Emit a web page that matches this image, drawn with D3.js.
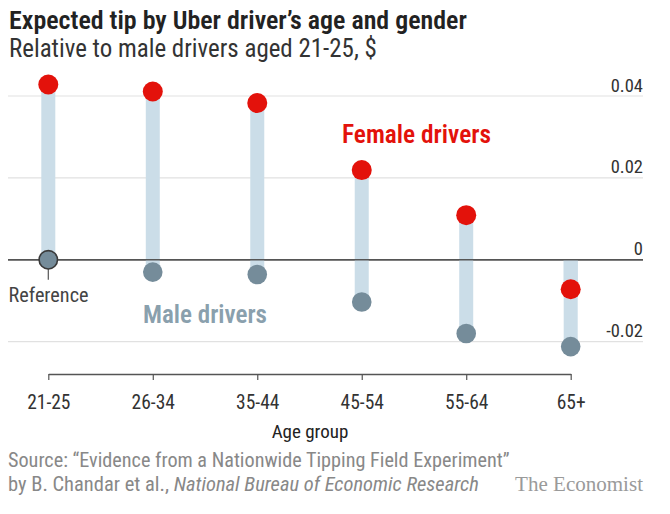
<!DOCTYPE html>
<html><head><meta charset="utf-8">
<script src="https://cdn.jsdelivr.net/npm/d3@7"></script>
<style>
html,body{margin:0;padding:0;background:#fff;}
svg{display:block;}
</style></head>
<body>
<svg id="chart" width="670" height="514"></svg>
<script>
const categories = ["21-25","26-34","35-44","45-54","55-64","65+"];
const femaleValues = [0.0428, 0.0411, 0.0383, 0.0219, 0.0109, -0.0072];
const maleValues = [0, -0.0030, -0.0036, -0.0103, -0.0180, -0.0212];
const yTicks = [-0.02, 0, 0.02, 0.04];
const yTickLabels = ["-0.02","0","0.02","0.04"];

const SANS = "'Liberation Sans Narrow','Roboto Condensed',Roboto,sans-serif";
const SERIF = "'Liberation Serif','DejaVu Serif',serif";

const svg = d3.select("#chart").style("font-family", SANS);
const x = d3.scalePoint().domain(categories).range([48.3, 570.7]);
const y = d3.scaleLinear().domain([-0.02, 0.04]).range([341.7, 96]);

function fitText(sel, target){
  const n = sel.node();
  const w = n.getComputedTextLength();
  const fs = parseFloat(sel.attr("font-size"));
  if (w > 0) sel.attr("font-size", (fs * target / w).toFixed(2));
}

// Title & subtitle
const title = svg.append("text").attr("x", 9).attr("y", 29).attr("font-size", 25)
  .attr("font-weight", 600).attr("fill", "#222")
  .text("Expected tip by Uber driver\u2019s age and gender");
fitText(title, 458);
const sub = svg.append("text").attr("x", 9).attr("y", 57).attr("font-size", 22)
  .attr("fill", "#333").text("Relative to male drivers aged 21-25, $");
fitText(sub, 368);

// Gridlines
const grid = svg.append("g");
yTicks.forEach((t, i) => {
  grid.append("line").attr("x1", 8).attr("x2", 643)
    .attr("y1", y(t)).attr("y2", y(t))
    .attr("stroke", t === 0 ? "#555" : "#e1e1e1")
    .attr("stroke-width", t === 0 ? 1.6 : 1.2);
  grid.append("text").attr("x", 643).attr("y", y(t) - 4.5)
    .attr("text-anchor", "end").attr("font-size", 18.5).attr("fill", "#333")
    .text(yTickLabels[i]);
});

// Stems: bar from 0 to female and 0 to male
const stems = svg.append("g");
categories.forEach((c, i) => {
  [femaleValues[i], maleValues[i]].forEach(v => {
    if (v === 0) return;
    stems.append("rect").attr("x", x(c) - 7).attr("width", 14)
      .attr("y", Math.min(y(v), y(0))).attr("height", Math.abs(y(v) - y(0)))
      .attr("fill", "#cbdde8");
  });
});

// redraw zero line above stems
svg.append("line").attr("x1", 8).attr("x2", 643).attr("y1", y(0)).attr("y2", y(0))
  .attr("stroke", "#555").attr("stroke-width", 1.6);

// Reference tick
svg.append("line").attr("x1", x(categories[0])).attr("x2", x(categories[0]))
  .attr("y1", y(0)).attr("y2", y(0) + 20).attr("stroke", "#555").attr("stroke-width", 1.2);

// Male dots
svg.append("g").selectAll("circle").data(categories).join("circle")
  .attr("cx", d => x(d)).attr("cy", (d, i) => y(maleValues[i]))
  .attr("r", (d, i) => i === 0 ? 9.2 : 9.8)
  .attr("fill", "#758c9a")
  .attr("stroke", (d, i) => i === 0 ? "#3a3a3a" : "none")
  .attr("stroke-width", 1.6);

// Female dots
svg.append("g").selectAll("circle").data(categories).join("circle")
  .attr("cx", d => x(d)).attr("cy", (d, i) => y(femaleValues[i]))
  .attr("r", 10).attr("fill", "#e3120b");

// Annotations
const fl = svg.append("text").attr("x", 342).attr("y", 143).attr("font-size", 20)
  .attr("font-weight", 600).attr("fill", "#e3120b").text("Female drivers");
fitText(fl, 149);
const ml = svg.append("text").attr("x", 143).attr("y", 323).attr("font-size", 20)
  .attr("font-weight", 600).attr("fill", "#8aa0ad").text("Male drivers");
fitText(ml, 124);
const rl = svg.append("text").attr("x", 8.5).attr("y", 301.5).attr("font-size", 16)
  .attr("fill", "#444").text("Reference");
fitText(rl, 80);

// X axis
const xAxisG = svg.append("g").attr("transform", "translate(0,374)")
  .call(d3.axisBottom(x).tickSize(6).tickPadding(15).tickSizeOuter(0));
xAxisG.select(".domain").attr("stroke", "#555").attr("stroke-width", 1.4);
xAxisG.selectAll(".tick line").attr("stroke", "#555").attr("stroke-width", 1.2);
xAxisG.selectAll(".tick text").attr("font-size", 19.5).attr("fill", "#333")
  .style("font-family", SANS);

svg.append("text").attr("x", 310).attr("y", 438).attr("text-anchor", "middle")
  .attr("font-size", 19).attr("fill", "#222").text("Age group");

// Source
const s1 = svg.append("text").attr("x", 8).attr("y", 467).attr("font-size", 16)
  .attr("fill", "#888").text("Source: \u201cEvidence from a Nationwide Tipping Field Experiment\u201d");
fitText(s1, 502);
const s2 = svg.append("text").attr("x", 8).attr("y", 491).attr("font-size", 16).attr("fill", "#888");
s2.append("tspan").text("by B. Chandar et al., ");
s2.append("tspan").attr("font-style", "italic").text("National Bureau of Economic Research");
fitText(s2, 471);
const ec = svg.append("text").attr("x", 643).attr("y", 491).attr("text-anchor", "end")
  .attr("font-size", 17).attr("fill", "#9a9a9a")
  .style("font-family", SERIF).text("The Economist");
fitText(ec, 128);
</script>
</body></html>
